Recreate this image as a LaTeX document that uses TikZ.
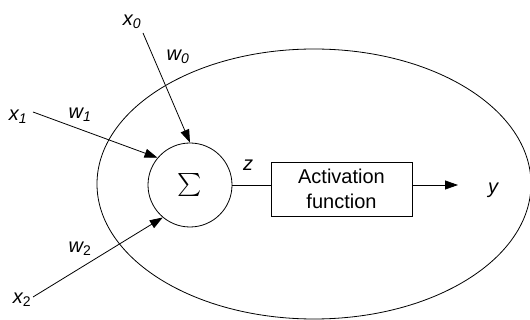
\documentclass[tikz,border=0pt]{standalone}
\usepackage{fontspec}
\setmainfont{Liberation Sans}
\usetikzlibrary{arrows.meta,positioning}
\definecolor{Ink}{HTML}{000000}
\newcommand{\var}[2]{\textit{#1}\textsubscript{#2}}
\tikzset{
  neuronlink/.style={draw=Ink, line width=0.8pt, -{Triangle[length=13pt,width=9pt]}},
  plainlink/.style={draw=Ink, line width=0.8pt},
  varlabel/.style={font=\fontsize{20}{24}\selectfont\itshape, text=Ink, inner sep=1pt}
}

\begin{document}
\begin{tikzpicture}[x=1pt, y=-1pt]
        \useasboundingbox (0,0) rectangle (530,320);
        % neuron body
        \draw[plainlink] (314,184) ellipse [x radius=217, y radius=135];
        \node[
          circle,
          draw=Ink,
          line width=0.8pt,
          minimum size=84pt,
          inner sep=0pt
        ] (sum) at (190,185) {\scalebox{2.3}{$\sum$}};
        \node[
          draw=Ink,
          line width=0.8pt,
          minimum width=141pt,
          minimum height=54pt,
          align=center,
          font=\fontsize{20}{25}\selectfont
        ] (act) at (341.5,189) {Activation\\function};
        % inputs
        \node[varlabel] (x0) at (132,22) {\var{x}{\textit{0}}};
        \node[varlabel] (x1) at (18,117) {\var{x}{\textit{1}}};
        \node[varlabel] (x2) at (22,300) {\var{x}{\upshape 2}};
        \node[varlabel] (w0) at (178,57) {\var{w}{\textit{0}}};
        \node[varlabel] (w1) at (80,115) {\var{w}{\textit{1}}};
        \node[varlabel] (w2) at (80,249) {\var{w}{\upshape 2}};
        \coordinate (in0) at (143,33);
        \coordinate (in1) at (33,112);
        \coordinate (in2) at (33,297);
        \draw[neuronlink] (in0) -- (sum.north);
        \draw[neuronlink] (in1) -- (sum.140);
        \draw[neuronlink] (in2) -- (sum.230);
        % output
        \node[varlabel] (z) at (248,165) {z};
        \node[varlabel] (y) at (493,190) {y};
        \coordinate (out) at (458,185);
        \draw[plainlink] (sum.east) -- (sum.east -| act.west);
        \draw[neuronlink] (act.east |- sum.east) -- (out);
      \end{tikzpicture}
\end{document}
